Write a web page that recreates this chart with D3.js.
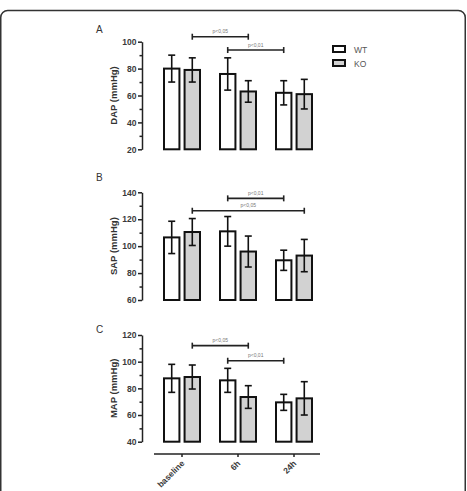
<!DOCTYPE html>
<html>
<head>
<meta charset="utf-8">
<script src="https://cdnjs.cloudflare.com/ajax/libs/d3/7.8.5/d3.min.js"></script>
<style>
  body { margin: 0; background: #fff; }
  svg { display: block; font-family: "Liberation Sans", Arial, sans-serif; }
  .axis path, .axis line { stroke: #222; stroke-width: 1.5; }
  .axis text { fill: #3a3a3a; font-size: 8.5px; font-weight: bold; }
</style>
</head>
<body>
<div id="chart"></div>
<script>
// data
var groups = ["baseline", "6h", "24h"];
var series = ["WT", "KO"];

var dapWT = [80, 76, 62], dapWTerr = [10, 12, 9];
var dapKO = [79, 63, 61], dapKOerr = [9, 8, 11];

var sapWT = [106.5, 111, 89.5], sapWTerr = [12, 11, 7.5];
var sapKO = [110.5, 96, 93], sapKOerr = [10, 11.5, 12];

var mapWT = [87.5, 86, 69.5], mapWTerr = [10.5, 9, 6];
var mapKO = [88.5, 73.5, 72.5], mapKOerr = [9, 8.5, 12.5];

// significance brackets: [from group, from series, to group, to series, level, label]
var dapSig = [["baseline", "KO", "6h", "KO", 103.7, "p<0,05"], ["6h", "WT", "24h", "WT", 93.8, "p<0,01"]];
var sapSig = [["6h", "WT", "24h", "WT", 135.5, "p<0,01"], ["baseline", "KO", "24h", "KO", 126.3, "p<0,05"]];
var mapSig = [["baseline", "KO", "6h", "KO", 112, "p<0,05"], ["6h", "WT", "24h", "WT", 100.7, "p<0,01"]];

var width = 467, height = 491;

var svg = d3.select("#chart").append("svg")
    .attr("width", width)
    .attr("height", height);

// frame round the figure
svg.append("rect")
    .attr("x", 0.75).attr("y", 10.5)
    .attr("width", 464.5).attr("height", 500)
    .attr("rx", 7)
    .attr("fill", "none")
    .attr("stroke", "#333")
    .attr("stroke-width", 1.5);

var x = d3.scaleBand().domain(groups).range([154, 322]);
var xSub = d3.scaleBand().domain(series).range([10, 46]).paddingInner(0.25);
var fills = { WT: "#fff", KO: "#d2d2d2" };

function cx(g, s) {
    return x(g) + xSub(s) + xSub.bandwidth() / 2;
}

var panels = [
    { letter: "A", label: "DAP (mmHg)", domain: [20, 100], range: [149.3, 41.7], letterY: 33,
      values: { WT: dapWT, KO: dapKO }, errs: { WT: dapWTerr, KO: dapKOerr }, sig: dapSig },
    { letter: "B", label: "SAP (mmHg)", domain: [60, 140], range: [300, 192.3], letterY: 181,
      values: { WT: sapWT, KO: sapKO }, errs: { WT: sapWTerr, KO: sapKOerr }, sig: sapSig },
    { letter: "C", label: "MAP (mmHg)", domain: [40, 120], range: [441.7, 335], letterY: 333,
      values: { WT: mapWT, KO: mapKO }, errs: { WT: mapWTerr, KO: mapKOerr }, sig: mapSig }
];

panels.forEach(function(p) {
    var y = d3.scaleLinear().domain(p.domain).range(p.range);
    var g = svg.append("g");

    g.append("text")
        .attr("x", 96).attr("y", p.letterY)
        .attr("font-size", 10)
        .attr("fill", "#333")
        .text(p.letter);

    // minor ticks
    var yMinor = d3.axisLeft(y)
        .tickValues(d3.range(p.domain[0] + 10, p.domain[1], 20))
        .tickSize(2.5).tickFormat("");
    g.append("g").attr("class", "axis")
        .attr("transform", "translate(142,0)")
        .call(yMinor)
        .select(".domain").remove();

    var yAxis = d3.axisLeft(y)
        .tickValues(d3.range(p.domain[0], p.domain[1] + 1, 20))
        .tickSizeInner(4).tickSizeOuter(0).tickPadding(1.5);
    g.append("g").attr("class", "axis")
        .attr("transform", "translate(142,0)")
        .call(yAxis);

    g.append("text")
        .attr("transform", "translate(117," + ((p.range[0] + p.range[1]) / 2) + ") rotate(-90)")
        .attr("text-anchor", "middle")
        .attr("font-size", 9.5)
        .attr("font-weight", "bold")
        .attr("fill", "#333")
        .text(p.label);

    series.forEach(function(s) {
        var rows = groups.map(function(gr, i) {
            return { g: gr, v: p.values[s][i], e: p.errs[s][i] };
        });

        g.selectAll(".bar-" + s)
            .data(rows)
            .enter().append("rect")
            .attr("x", function(d) { return x(d.g) + xSub(s); })
            .attr("y", function(d) { return y(d.v); })
            .attr("width", xSub.bandwidth())
            .attr("height", function(d) { return y(p.domain[0]) - y(d.v); })
            .attr("fill", fills[s])
            .attr("stroke", "#111")
            .attr("stroke-width", 2);

        var eb = g.selectAll(".err-" + s)
            .data(rows)
            .enter().append("g")
            .attr("stroke", "#111")
            .attr("stroke-width", 1.6);
        eb.append("line")
            .attr("x1", function(d) { return cx(d.g, s); })
            .attr("x2", function(d) { return cx(d.g, s); })
            .attr("y1", function(d) { return y(d.v - d.e); })
            .attr("y2", function(d) { return y(d.v + d.e); });
        [-1, 1].forEach(function(k) {
            eb.append("line")
                .attr("x1", function(d) { return cx(d.g, s) - 3.5; })
                .attr("x2", function(d) { return cx(d.g, s) + 3.5; })
                .attr("y1", function(d) { return y(d.v + k * d.e); })
                .attr("y2", function(d) { return y(d.v + k * d.e); });
        });
    });

    // significance brackets
    p.sig.forEach(function(b) {
        var x1 = cx(b[0], b[1]), x2 = cx(b[2], b[3]), yy = y(b[4]);
        var sg = g.append("g").attr("stroke", "#222").attr("stroke-width", 1.6);
        sg.append("line").attr("x1", x1).attr("x2", x2).attr("y1", yy).attr("y2", yy);
        sg.append("line").attr("x1", x1).attr("x2", x1).attr("y1", yy - 3).attr("y2", yy + 3);
        sg.append("line").attr("x1", x2).attr("x2", x2).attr("y1", yy - 3).attr("y2", yy + 3);
        g.append("text")
            .attr("x", (x1 + x2) / 2).attr("y", yy - 3.5)
            .attr("text-anchor", "middle")
            .attr("font-size", 5)
            .attr("fill", "#777")
            .text(b[5]);
    });
});

// bottom category axis
var xAxis = d3.axisBottom(x).tickSizeInner(3).tickSizeOuter(0);
var xg = svg.append("g").attr("class", "axis")
    .attr("transform", "translate(0,454)")
    .call(xAxis);
xg.select(".domain").remove();
xg.append("line").attr("x1", 154).attr("x2", 320).attr("y1", 0).attr("y2", 0)
    .attr("stroke", "#222").attr("stroke-width", 1.5);
xg.selectAll(".tick text")
    .attr("text-anchor", "end")
    .attr("dy", null)
    .attr("y", 0)
    .attr("transform", "translate(3,10) rotate(-45)");

// legend
var legend = svg.append("g").attr("transform", "translate(333,46)");
series.forEach(function(s, i) {
    legend.append("rect")
        .attr("x", 0).attr("y", i * 14)
        .attr("width", 12).attr("height", 6)
        .attr("fill", fills[s])
        .attr("stroke", "#111")
        .attr("stroke-width", 2);
    legend.append("text")
        .attr("x", 21).attr("y", i * 14 + 6.5)
        .attr("font-size", 8.5)
        .attr("fill", "#555")
        .text(s);
});
</script>
</body>
</html>
